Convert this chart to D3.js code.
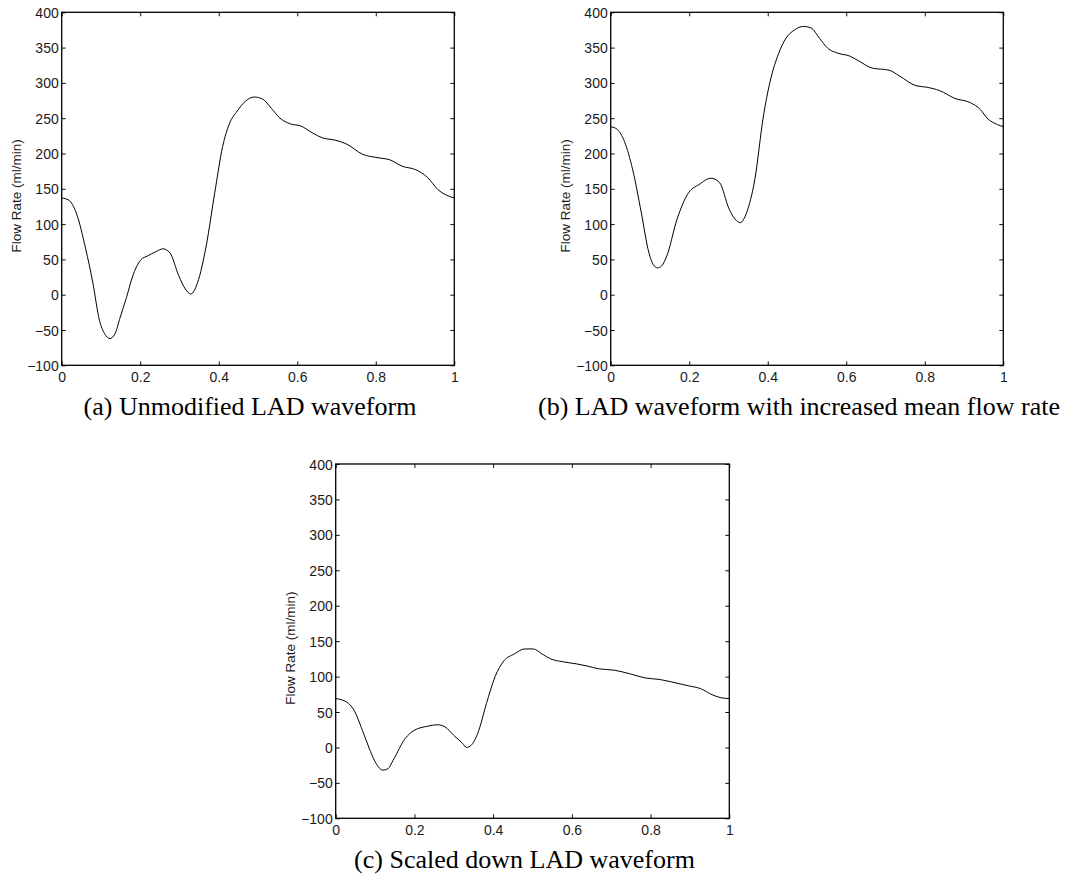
<!DOCTYPE html>
<html>
<head>
<meta charset="utf-8">
<script src="https://cdn.jsdelivr.net/npm/d3@7"></script>
<style>
  html, body { margin: 0; padding: 0; background: #fff; }
  svg { display: block; }
  .tick-label { font-family: "Liberation Sans", Arial, Helvetica, sans-serif; font-size: 14px; fill: #1a1a1a; }
  .ylabel { font-family: "Liberation Sans", Arial, Helvetica, sans-serif; font-size: 13.5px; fill: #1a1a1a; }
  .caption { font-family: "Liberation Serif", "Times New Roman", Times, serif; font-size: 26px; fill: #000; }
</style>
</head>
<body>
<svg id="fig" width="1071" height="877"></svg>
<script>
// Normalised cardiac-cycle time (0..1) and LAD flow rate (ml/min)

// (a) unmodified waveform
const timeA = [0, 0.018, 0.037, 0.061, 0.079, 0.096, 0.109, 0.123, 0.136, 0.149, 0.165, 0.18,
  0.201, 0.219, 0.24, 0.258, 0.276, 0.298, 0.315, 0.329, 0.346, 0.368, 0.39, 0.41, 0.427,
  0.447, 0.468, 0.49, 0.512, 0.534, 0.556, 0.582, 0.609, 0.639, 0.665, 0.696, 0.727, 0.766,
  0.806, 0.836, 0.867, 0.902, 0.932, 0.958, 0.98, 1];
const flowA = [137, 134, 116, 65, 18, -36, -55, -62, -55, -32, -4, 25,
  49, 55, 61, 65, 59, 27, 8, 1, 17, 69, 145, 210, 242,
  260, 274, 280, 277, 264, 250, 242, 239, 229, 222, 219, 213, 199,
  194, 191, 182, 177, 166, 149, 141, 137];

// (b) waveform with increased mean flow rate
const timeB = [0, 0.017, 0.035, 0.056, 0.078, 0.097, 0.108, 0.119, 0.13, 0.143, 0.169, 0.199,
  0.225, 0.255, 0.277, 0.302, 0.32, 0.33, 0.346, 0.367, 0.389, 0.406, 0.428, 0.445, 0.468,
  0.491, 0.51, 0.532, 0.553, 0.579, 0.609, 0.635, 0.666, 0.709, 0.735, 0.778, 0.804, 0.838,
  0.877, 0.916, 0.942, 0.959, 0.985, 1];
const flowB = [238, 234, 217, 177, 116, 60, 43, 38, 41, 55, 107, 145,
  156, 165, 159, 121, 105, 102, 116, 163, 253, 302, 342, 362, 375,
  380, 378, 363, 349, 342, 338, 330, 321, 318, 310, 296, 294, 289,
  278, 272, 262, 250, 241, 238];

// (c) scaled-down waveform
const timeC = [0, 0.028, 0.046, 0.068, 0.085, 0.098, 0.12, 0.133, 0.146, 0.177, 0.199, 0.234,
  0.258, 0.278, 0.3, 0.322, 0.332, 0.344, 0.361, 0.383, 0.405, 0.427, 0.454, 0.48, 0.502,
  0.524, 0.546, 0.576, 0.611, 0.638, 0.668, 0.708, 0.747, 0.787, 0.822, 0.857, 0.896, 0.927,
  0.958, 0.98, 1];
const flowC = [69, 64, 53, 24, -1, -18, -32, -30, -18, 13, 24, 30,
  32, 29, 17, 6, 0, 3, 20, 62, 100, 122, 132, 139, 139,
  132, 125, 121, 118, 115, 111, 109, 104, 98, 96, 92, 87, 83,
  74, 70, 69];

// Axis ticks and text
const xTicks = [0, 0.2, 0.4, 0.6, 0.8, 1];
const yTicks = [-100, -50, 0, 50, 100, 150, 200, 250, 300, 350, 400];
const yLabelText = "Flow Rate (ml/min)";
const captions = [
  "(a) Unmodified LAD waveform",
  "(b) LAD waveform with increased mean flow rate",
  "(c) Scaled down LAD waveform"
];

const panels = [
  { t: timeA, v: flowA, caption: captions[0], left: 61.7, top: 12.3, width: 392.6, height: 353 },
  { t: timeB, v: flowB, caption: captions[1], left: 610.7, top: 12.3, width: 392.6, height: 353 },
  { t: timeC, v: flowC, caption: captions[2], left: 335.7, top: 464, width: 393.6, height: 354.3 }
];

const svg = d3.select("#fig");
const tickLen = 4;
const fmtY = d => d < 0 ? "\u2212" + Math.abs(d) : String(d);
const fmtX = d => String(d);

panels.forEach(p => {
  const g = svg.append("g").attr("transform", `translate(${p.left},${p.top})`);
  const x = d3.scaleLinear().domain([0, 1]).range([0, p.width]);
  const y = d3.scaleLinear().domain([-100, 400]).range([p.height, 0]);

  // bottom axis: inward ticks with labels below
  const bottom = g.append("g").attr("transform", `translate(0,${p.height})`)
    .call(d3.axisBottom(x).tickValues(xTicks).tickFormat(fmtX).tickSizeInner(-tickLen).tickSizeOuter(0).tickPadding(7));
  // top axis: inward ticks only
  g.append("g")
    .call(d3.axisTop(x).tickValues(xTicks).tickFormat("").tickSizeInner(-tickLen).tickSizeOuter(0));
  // left axis: inward ticks with labels
  const left = g.append("g")
    .call(d3.axisLeft(y).tickValues(yTicks).tickFormat(fmtY).tickSizeInner(-tickLen).tickSizeOuter(0).tickPadding(3));
  // right axis: inward ticks only
  g.append("g").attr("transform", `translate(${p.width},0)`)
    .call(d3.axisRight(y).tickValues(yTicks).tickFormat("").tickSizeInner(-tickLen).tickSizeOuter(0));

  g.selectAll(".domain").remove();
  g.selectAll(".tick line").attr("stroke", "#111").attr("stroke-width", 1);
  [bottom, left].forEach(a => a.selectAll(".tick text")
    .attr("class", "tick-label").attr("fill", null).style("font-size", null).style("font-family", null));
  bottom.selectAll(".tick text").attr("dy", "0.71em");
  left.selectAll(".tick text").attr("dy", "0.36em");

  // plot frame
  g.append("rect")
    .attr("x", 0).attr("y", 0).attr("width", p.width).attr("height", p.height)
    .attr("fill", "none").attr("stroke", "#000").attr("stroke-width", 1.3);

  // waveform
  const pts = p.t.map((t, i) => [t, p.v[i]]);
  g.append("path")
    .datum(pts)
    .attr("fill", "none")
    .attr("stroke", "#000")
    .attr("stroke-width", 1)
    .attr("d", d3.line().x(d => x(d[0])).y(d => y(d[1])).curve(d3.curveMonotoneX));

  // y-axis title
  g.append("text")
    .attr("class", "ylabel")
    .attr("transform", `translate(-41,${p.height / 2 + 7}) rotate(-90)`)
    .attr("text-anchor", "middle")
    .text(yLabelText);

  // caption under the panel
  g.append("text")
    .attr("class", "caption")
    .attr("x", p.width / 2 - 8)
    .attr("y", p.height + 50)
    .attr("text-anchor", "middle")
    .text(p.caption);
});
</script>
</body>
</html>
